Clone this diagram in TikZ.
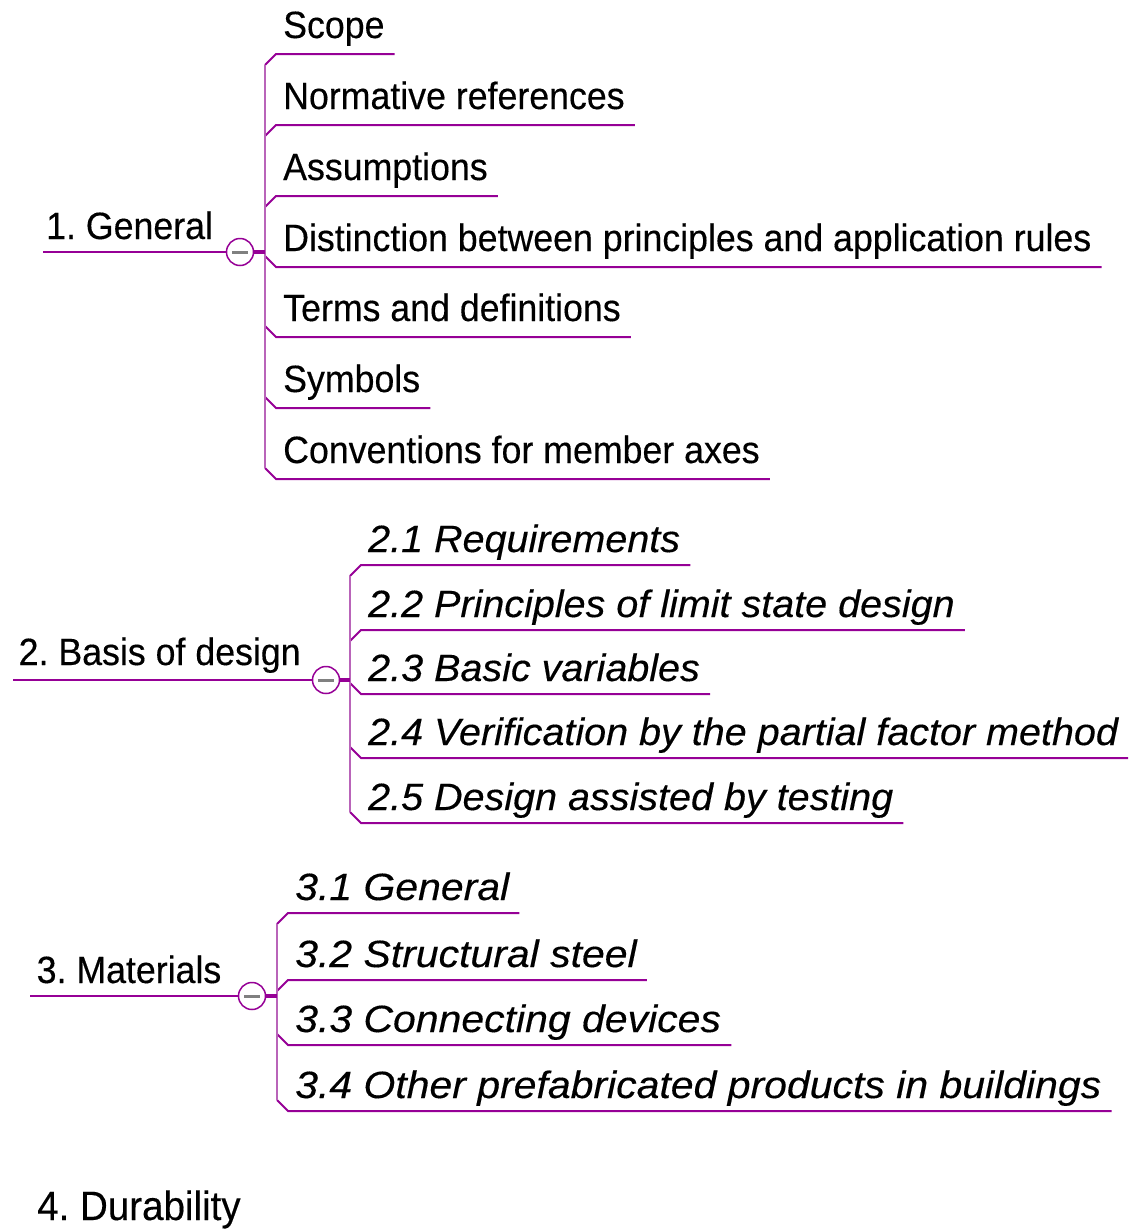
\documentclass[tikz,border=0pt]{standalone}
\usepackage{fontspec}
\usetikzlibrary{calc}
\newfontfamily\rmn[FakeStretch=0.94,FakeBold=0.3]{Liberation Sans}
\newfontfamily\itn[FakeStretch=1.04,FakeBold=0.3]{Liberation Sans}
\newfontfamily\itw[FakeStretch=1.078,FakeBold=0.3]{Liberation Sans}
\definecolor{mm}{RGB}{150,0,150}
\definecolor{mmv}{RGB}{185,100,185}
\definecolor{gm}{RGB}{128,128,128}
\frenchspacing
\tikzset{
  rtxt/.style={anchor=base west, inner sep=0pt, font=\rmn\fontsize{38}{40}\selectfont, text=black},
  itxt/.style={anchor=base west, inner sep=0pt, font=\itn\itshape\fontsize{38}{40}\selectfont, text=black},
  iwtxt/.style={anchor=base west, inner sep=0pt, font=\itw\itshape\fontsize{38}{40}\selectfont, text=black},
  uline/.style={draw=mm, line width=2pt},
  vline/.style={draw=mmv, line width=1.5pt},
  tog/.style={circle, draw=mm, fill=white, line width=1.5pt, minimum size=27pt, inner sep=0pt},
  stub/.style={draw=mm, line width=3.5pt},
  minus/.style={draw=gm, line width=3pt},
}
\newcommand\kid[7]{%
  \node[#1] (#2) at (#3+18,#4-#6) {#7};
  \coordinate (#2j) at (#3,#4+#5);
  \coordinate (#2s) at (#3+11,#4);
  \coordinate (#2e) at ($(#2.base east)+(10,#6)$);
  \draw[uline] (#2j) -- (#2s) -- (#2s -| #2e);
}
\begin{document}
\begin{tikzpicture}[x=1pt,y=-1pt]
\useasboundingbox (0,0) rectangle (1128,1229);
% ---------- Group 1
\kid{rtxt}{a1}{265}{54}{11}{16}{Scope}
\kid{rtxt}{a2}{265}{125}{11}{16}{Normative references}
\kid{rtxt}{a3}{265}{196}{11}{16}{Assumptions}
\kid{rtxt}{a4}{265}{267}{-11}{16}{Distinction between principles and application rules}
\kid{rtxt}{a5}{265}{337}{-11}{16}{Terms and definitions}
\kid{rtxt}{a6}{265}{408}{-11}{16}{Symbols}
\kid{rtxt}{a7}{265}{479}{-11}{16}{Conventions for member axes}
\draw[vline] (a1j) -- (a7j);
\node[rtxt] (p1) at (46,239) {1. General};
\coordinate (p1s) at (43,252);
\node[tog] (t1) at (240,252) {};
\coordinate (m1) at (265,252);
\draw[uline] (p1s) -- (t1.west);
\draw[stub] (t1.east) -- (m1);
\draw[minus] ($(t1)+(-8,0)$) -- ($(t1)+(8,0)$);
% ---------- Group 2
\kid{itxt}{b1}{350}{565}{11}{13}{2.1 Requirements}
\kid{itxt}{b2}{350}{630}{11}{13}{2.2 Principles of limit state design}
\kid{itxt}{b3}{350}{694}{-11}{13}{2.3 Basic variables}
\kid{itxt}{b4}{350}{758}{-11}{13}{2.4 Verification by the partial factor method}
\kid{itxt}{b5}{350}{823}{-11}{13}{2.5 Design assisted by testing}
\draw[vline] (b1j) -- (b5j);
\node[rtxt] (p2) at (18.5,665) {2. Basis of design};
\coordinate (p2s) at (13,680);
\node[tog] (t2) at (326,680) {};
\coordinate (m2) at (350,680);
\draw[uline] (p2s) -- (t2.west);
\draw[stub] (t2.east) -- (m2);
\draw[minus] ($(t2)+(-8,0)$) -- ($(t2)+(8,0)$);
% ---------- Group 3
\kid{iwtxt}{c1}{277}{913}{11}{13}{3.1 General}
\kid{iwtxt}{c2}{277}{980}{11}{13}{3.2 Structural steel}
\kid{iwtxt}{c3}{277}{1045}{-11}{13}{3.3 Connecting devices}
\kid{iwtxt}{c4}{277}{1111}{-11}{13}{3.4 Other prefabricated products in buildings}
\draw[vline] (c1j) -- (c4j);
\node[rtxt] (p3) at (36.5,983) {3. Materials};
\coordinate (p3s) at (30,996);
\node[tog] (t3) at (252,996) {};
\coordinate (m3) at (277,996);
\draw[uline] (p3s) -- (t3.west);
\draw[stub] (t3.east) -- (m3);
\draw[minus] ($(t3)+(-8,0)$) -- ($(t3)+(8,0)$);
% ---------- Group 4
\node[rtxt, font=\rmn\fontsize{41}{44}\selectfont] (p4) at (37,1220) {4. Durability};
\end{tikzpicture}
\end{document}
